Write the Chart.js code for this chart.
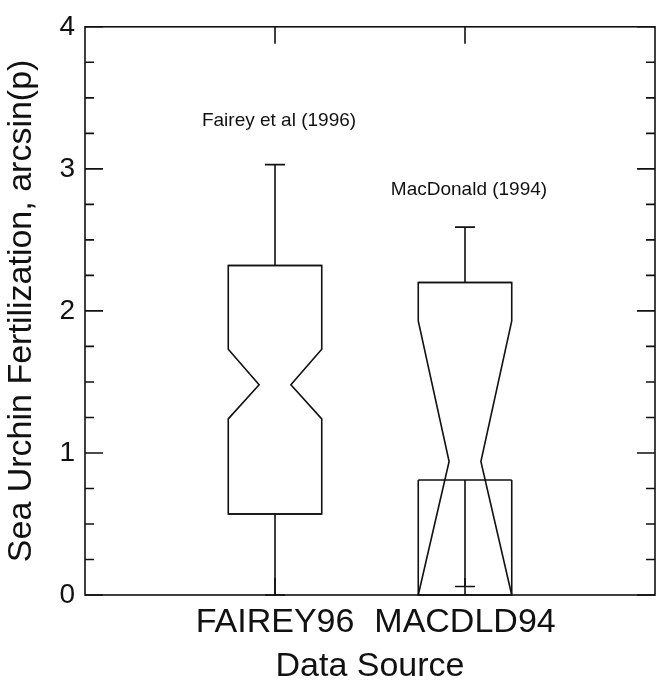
<!DOCTYPE html>
<html>
<head>
<meta charset="utf-8">
<script src="https://cdn.jsdelivr.net/npm/chart.js@4.4.1/dist/chart.umd.min.js"></script>
<style>
  html, body { margin: 0; padding: 0; background: #fff; }
  #wrap { width: 662px; height: 688px; }
</style>
</head>
<body>
<div id="wrap"><canvas id="boxChart" width="662" height="688"></canvas></div>
<script>
// x axis slots: blank ends keep the two boxes at 1/3 and 2/3 of the width
const categories = ['', 'FAIREY96', 'MACDLD94', ''];
const sourceNotes = ['Fairey et al (1996)', 'MacDonald (1994)'];

// notched box statistics, one entry per data source
const whiskerLow  = [0.00, 0.06];
const q1          = [0.57, 0.81];
const notchLow    = [1.24, 0.00];
const median      = [1.48, 0.94];
const notchHigh   = [1.73, 1.93];
const q3          = [2.32, 2.20];
const whiskerHigh = [3.03, 2.59];

// height (in y units) where each source note is written
const noteY = [3.34, 2.85];

const yTicks = [0, 1, 2, 3, 4];
const yMinorStep = 0.25;

const INK = '#111';
const FONT = "'Liberation Sans', Arial, Helvetica, sans-serif";

// draws the frame, inward ticks, notched boxes and notes
const notchedBoxes = {
  id: 'notchedBoxes',
  afterDraw(chart) {
    const ctx = chart.ctx;
    const xs = chart.scales.x;
    const ys = chart.scales.y;
    const a = chart.chartArea;
    const Y = v => ys.getPixelForValue(v);

    ctx.save();
    ctx.strokeStyle = INK;
    ctx.lineWidth = 1.6;
    ctx.lineJoin = 'miter';

    // frame
    ctx.strokeRect(a.left, a.top, a.right - a.left, a.bottom - a.top);

    // y ticks on both sides, pointing in
    ctx.beginPath();
    const yMin = yTicks[0], yMax = yTicks[yTicks.length - 1];
    for (let v = yMin; v <= yMax + 1e-9; v += yMinorStep) {
      const major = yTicks.includes(Math.round(v * 100) / 100);
      const len = major ? 18 : 9;
      const py = Y(v);
      ctx.moveTo(a.left, py); ctx.lineTo(a.left + len, py);
      ctx.moveTo(a.right, py); ctx.lineTo(a.right - len, py);
    }
    // x ticks at each category, top and bottom
    categories.forEach((c, i) => {
      if (!c) return;
      const px = xs.getPixelForValue(i);
      ctx.moveTo(px, a.top); ctx.lineTo(px, a.top + 17);
      ctx.moveTo(px, a.bottom); ctx.lineTo(px, a.bottom - 17);
    });
    ctx.stroke();

    // notched boxes
    const slot = xs.getPixelForValue(1) - xs.getPixelForValue(0);
    const hw = slot * 0.246;       // half box width
    const mw = hw * 0.34;          // half width at the median
    const cap = 10;
    median.forEach((m, i) => {
      const cx = xs.getPixelForValue(i + 1);
      const top = Math.max(q3[i], notchHigh[i]);
      const bot = Math.min(q1[i], notchLow[i]);

      ctx.beginPath();
      ctx.moveTo(cx - hw, Y(top));
      ctx.lineTo(cx + hw, Y(top));
      ctx.lineTo(cx + hw, Y(notchHigh[i]));
      ctx.lineTo(cx + mw, Y(m));
      ctx.lineTo(cx + hw, Y(notchLow[i]));
      ctx.lineTo(cx + hw, Y(bot));
      ctx.lineTo(cx - hw, Y(bot));
      ctx.lineTo(cx - hw, Y(notchLow[i]));
      ctx.lineTo(cx - mw, Y(m));
      ctx.lineTo(cx - hw, Y(notchHigh[i]));
      ctx.closePath();
      ctx.stroke();

      // hinges, with the box sides carried out to them
      ctx.beginPath();
      ctx.moveTo(cx - hw, Y(q3[i])); ctx.lineTo(cx + hw, Y(q3[i]));
      ctx.moveTo(cx - hw, Y(q1[i])); ctx.lineTo(cx + hw, Y(q1[i]));
      ctx.moveTo(cx - hw, Y(q1[i])); ctx.lineTo(cx - hw, Y(bot));
      ctx.moveTo(cx + hw, Y(q1[i])); ctx.lineTo(cx + hw, Y(bot));
      ctx.moveTo(cx - hw, Y(q3[i])); ctx.lineTo(cx - hw, Y(top));
      ctx.moveTo(cx + hw, Y(q3[i])); ctx.lineTo(cx + hw, Y(top));

      // whiskers
      ctx.moveTo(cx, Y(q3[i])); ctx.lineTo(cx, Y(whiskerHigh[i]));
      ctx.moveTo(cx - cap, Y(whiskerHigh[i])); ctx.lineTo(cx + cap, Y(whiskerHigh[i]));
      ctx.moveTo(cx, Y(q1[i])); ctx.lineTo(cx, Y(whiskerLow[i]));
      ctx.moveTo(cx - cap, Y(whiskerLow[i])); ctx.lineTo(cx + cap, Y(whiskerLow[i]));
      ctx.stroke();

      // source note
      ctx.fillStyle = INK;
      ctx.font = '19px ' + FONT;
      ctx.textAlign = 'center';
      ctx.textBaseline = 'middle';
      ctx.fillText(sourceNotes[i], cx + 4, Y(noteY[i]));
    });

    ctx.restore();
  }
};

const ctx = document.getElementById('boxChart').getContext('2d');
new Chart(ctx, {
  type: 'line',
  data: {
    labels: categories,
    datasets: [{
      data: categories.map(() => null),
      pointRadius: 0,
      showLine: false
    }]
  },
  options: {
    responsive: false,
    animation: false,
    layout: { padding: { left: 0, right: 4, top: 21, bottom: 0 } },
    plugins: { legend: { display: false }, tooltip: { enabled: false } },
    scales: {
      x: {
        type: 'category',
        offset: false,
        grid: { display: false, drawTicks: false },
        border: { display: false },
        ticks: {
          color: INK,
          font: { family: FONT, size: 34 },
          padding: 7,
          maxRotation: 0,
          autoSkip: false
        },
        title: {
          display: true,
          text: 'Data Source',
          color: INK,
          font: { family: FONT, size: 34 },
          padding: { top: 0, bottom: 1 }
        },
        afterFit(scale) { scale.height = 93; }
      },
      y: {
        type: 'linear',
        min: yTicks[0],
        max: yTicks[yTicks.length - 1],
        grid: { display: false, drawTicks: false },
        border: { display: false },
        ticks: {
          stepSize: 1,
          color: INK,
          font: { family: FONT, size: 28 },
          padding: 10
        },
        title: {
          display: true,
          text: 'Sea Urchin Fertilization, arcsin(p)',
          color: INK,
          font: { family: FONT, size: 34 },
          padding: { top: 1, bottom: 0 }
        },
        afterFit(scale) { scale.width = 85; }
      }
    }
  },
  plugins: [notchedBoxes]
});
</script>
</body>
</html>
